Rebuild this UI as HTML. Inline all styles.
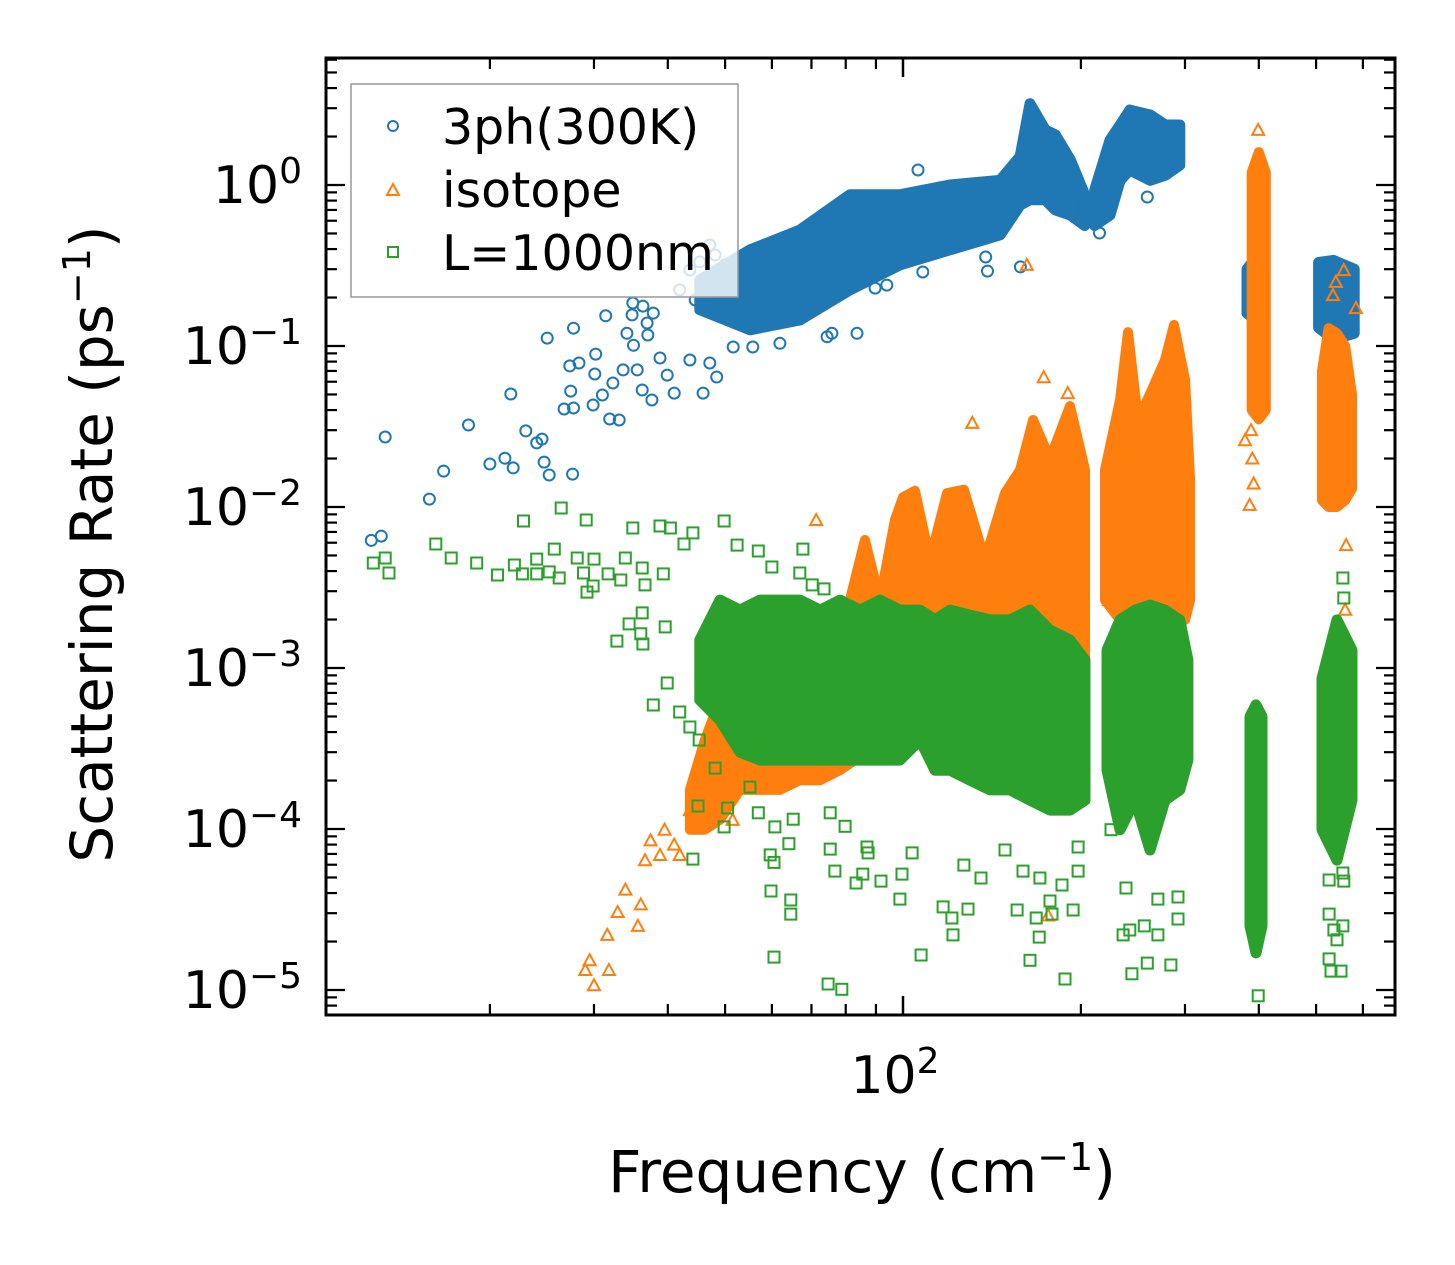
<!DOCTYPE html>
<html><head><meta charset="utf-8">
<style>
html,body{margin:0;padding:0;background:#fff;}
svg{display:block;font-family:"DejaVu Sans","Liberation Sans",sans-serif;}
</style></head>
<body>
<svg id="chart" width="1455" height="1265" viewBox="0 0 1455 1265" xmlns="http://www.w3.org/2000/svg">
<rect width="1455" height="1265" fill="#fff"/>
<defs><clipPath id="plotclip"><rect x="326" y="58" width="1069" height="957"/></clipPath></defs>
<g id="marks" clip-path="url(#plotclip)"></g>
<g id="axes"></g>
<g id="legend">
  <rect x="351" y="84" width="387" height="213" fill="rgba(255,255,255,0.8)" stroke="#999" stroke-width="1.5"/>
  <circle cx="393" cy="126" r="5" fill="none" stroke="#1f77b4" stroke-width="2"/>
  <text x="442" y="144" font-size="49">3ph(300K)</text>
  <path d="M387,195 L393,184 L399,195 Z" fill="none" stroke="#ff7f0e" stroke-width="2"/>
  <text x="442" y="207" font-size="49">isotope</text>
  <rect x="388" y="247" width="10" height="10" fill="none" stroke="#2ca02c" stroke-width="2"/>
  <text x="442" y="270" font-size="49">L=1000nm</text>
</g>
<text x="862" y="1192" font-size="58" text-anchor="middle">Frequency (cm<tspan baseline-shift="super" font-size="38">−1</tspan>)</text>
<text transform="translate(112,544) rotate(-90)" font-size="58" text-anchor="middle">Scattering Rate (ps<tspan baseline-shift="super" font-size="38">−1</tspan>)</text>
</svg>
<script>
// ---- data ----
const blueBandA_f=[45.3,55.1,66.9,81.3,99,120,146,157.8,164,174,181,192,203];
const blueBandA_hi=[0.257,0.395,0.525,0.87,0.87,1.0,1.07,1.5,3.2,2.2,2.05,1.43,0.87];
const blueBandA_lo=[0.168,0.126,0.145,0.223,0.32,0.395,0.49,0.75,0.81,0.81,0.70,0.65,0.56];
const blueBandB_f=[211,224,233,242,262,278,294];
const blueBandB_hi=[0.93,1.9,2.36,2.92,2.72,2.36,2.36];
const blueBandB_lo=[0.56,0.65,1.07,1.24,1.07,1.15,1.33];
const blueBandC_f=[382,390,400];
const blueBandC_hi=[0.3,0.33,0.3];
const blueBandC_lo=[0.16,0.15,0.16];
const blueBandD_f=[505,535,580];
const blueBandD_hi=[0.33,0.34,0.30];
const blueBandD_lo=[0.13,0.11,0.12];
const bluePts=[[12.6,0.0062],[13.1,0.0066],[13.3,0.0272],[15.8,0.0112],[16.7,0.0167],[18.4,0.0323],[20.0,0.0185],[21.2,0.0201],[21.9,0.0175],[21.7,0.0503],[23.0,0.0297],[24.0,0.025],[24.5,0.0264],[24.7,0.019],[25.2,0.0158],[27.6,0.016],[25.0,0.112],[27.7,0.129],[27.3,0.0752],[28.3,0.0784],[27.4,0.0525],[26.7,0.0406],[27.7,0.0412],[29.9,0.043],[30.1,0.067],[30.2,0.0891],[31.4,0.154],[31.0,0.0496],[31.9,0.0352],[33.1,0.0347],[32.3,0.0589],[34.1,0.12],[34.8,0.156],[34.9,0.185],[36.3,0.177],[37.8,0.16],[35.0,0.101],[36.9,0.139],[37.0,0.117],[39.9,0.066],[41.0,0.051],[45.9,0.051],[47.1,0.0784],[48.4,0.0642],[36.2,0.0533],[37.6,0.0462],[33.6,0.071],[35.5,0.071],[43.6,0.0818],[38.8,0.0842],[51.6,0.0986],[55.7,0.0986],[61.9,0.104],[58.4,0.424],[64.4,0.436],[60.0,0.436],[74.4,0.114],[75.8,0.12],[108,0.288],[138,0.357],[139,0.292],[158,0.31],[83.6,0.12],[89.7,0.229],[93.9,0.239],[215,0.503],[259,0.842],[106,1.24],[41.9,0.223],[43.6,0.296],[45.3,0.333],[46.2,0.257],[48.1,0.368],[50.0,0.319],[51.0,0.239],[44.5,0.193],[47.1,0.424]];

const orBand1_f=[43.6,46.2,49.0,53.0,57.3,61.9,66.9,72.4,78.2,82.9,86.2,91.4,96.9,100,104.8,111.1,118.7,126.8,137.6,148.8,157.8,166,177.3,191.7,203.2];
const orBand1_hi=[1.75e-4,3.57e-4,6.33e-4,1.12e-3,6.33e-4,1.12e-3,7.3e-4,1.29e-3,1.49e-3,3.52e-3,6.24e-3,2.64e-3,8.3e-3,0.0115,0.0126,4.69e-3,0.0122,0.0128,4.69e-3,0.0122,0.017,0.0347,0.0199,0.0424,0.017];
const orBand1_lo=[9.9e-5,9.9e-5,1.14e-4,1.75e-4,1.75e-4,1.75e-4,2.01e-4,2.01e-4,2.32e-4,2.68e-4,2.68e-4,2.68e-4,3.57e-4,3.57e-4,3.57e-4,3.57e-4,3.57e-4,3.57e-4,3.57e-4,4.75e-4,4.75e-4,4.75e-4,4.75e-4,4.75e-4,6.33e-4];
const orBand2_f=[219.7,232.9,240.3,249.8,261.8,277.5,287.4,300.1,306];
const orBand2_hi=[0.017,0.0462,0.122,0.0347,0.0503,0.0818,0.135,0.0615,0.0147];
const orBand2_lo=[2.64e-3,1.99e-3,1.99e-3,1.99e-3,1.99e-3,1.99e-3,1.99e-3,1.99e-3,2.64e-3];
const orBand3_f=[389,400,411];
const orBand3_hi=[1.2,1.6,1.2];
const orBand3_lo=[0.04,0.035,0.04];
const orBand4_f=[511.7,525,542.5,560,575];
const orBand4_hi=[0.07,0.129,0.12,0.1,0.05];
const orBand4_lo=[0.011,0.01,0.01,0.011,0.013];
const orangePts=[[29,1.33e-5],[29.5,1.53e-5],[30,1.07e-5],[31.8,1.33e-5],[31.6,2.2e-5],[32.9,3.05e-5],[33.9,4.2e-5],[36,3.4e-5],[35.6,2.5e-5],[36.6,6.4e-5],[37.4,8.5e-5],[39.5,9.9e-5],[38.8,6.9e-5],[41,8e-5],[41.9,6.9e-5],[43.6,1.31e-4],[44.9,2.01e-4],[46.8,1.31e-4],[48,2.68e-4],[50,1.75e-4],[52,2.16e-4],[51.5,1.14e-4],[71.3,0.0083],[162,0.319],[131,0.0333],[173,0.064],[190,0.051],[399,2.2],[379,0.026],[386,0.0103],[390,0.02],[392,0.014],[388,0.03],[223,2.64e-3],[292,3.62e-3],[562,5.8e-3],[560,2.3e-3],[176,2.9e-5],[557,0.296],[584,0.172],[534,0.207],[540,0.25]];

const grBand1_f=[45.3,49.0,53.0,57.3,61.9,66.9,72.4,78.2,84.6,91.4,98.8,106.9,113.3,120.1,129.8,140.4,151.7,164,177.3,191.7,203.2];
const grBand1_hi=[1.49e-3,2.64e-3,2.29e-3,2.64e-3,2.64e-3,2.64e-3,2.29e-3,2.64e-3,2.29e-3,2.64e-3,2.29e-3,2.29e-3,1.99e-3,2.29e-3,2.13e-3,1.99e-3,1.99e-3,2.29e-3,1.72e-3,1.49e-3,1.12e-3];
const grBand1_lo=[6.33e-4,4.75e-4,3.0e-4,2.68e-4,2.68e-4,2.68e-4,2.68e-4,2.68e-4,2.68e-4,2.68e-4,2.68e-4,3.57e-4,2.32e-4,2.32e-4,2.01e-4,1.75e-4,1.75e-4,1.51e-4,1.31e-4,1.31e-4,1.51e-4];
const grBand2_f=[221.4,232.9,247,261.8,277.5,294,303.4];
const grBand2_hi=[1.29e-3,1.99e-3,2.29e-3,2.46e-3,2.29e-3,1.99e-3,1.12e-3];
const grBand2_lo=[2.32e-4,9.9e-5,1.51e-4,7.41e-5,1.51e-4,1.75e-4,2.68e-4];
const grBand3_f=[386.5,395.7,405];
const grBand3_hi=[5.0e-4,5.9e-4,5.0e-4];
const grBand3_lo=[2.5e-5,1.7e-5,2.5e-5];
const grBand4_f=[511.7,542.5,575];
const grBand4_hi=[8.6e-4,1.99e-3,1.29e-3];
const grBand4_lo=[9.9e-5,6.4e-5,1.51e-4];
const greenPts=[[12.7,4.49e-3],[13.3,4.82e-3],[13.5,3.89e-3],[16.2,5.89e-3],[17.2,4.82e-3],[19.0,4.49e-3],[20.6,3.78e-3],[22.0,4.36e-3],[22.7,3.84e-3],[24.0,3.84e-3],[24.0,4.75e-3],[25.2,3.95e-3],[26.2,3.62e-3],[25.7,5.48e-3],[22.8,8.19e-3],[26.4,9.86e-3],[29.1,8.3e-3],[28.1,4.82e-3],[30.0,4.75e-3],[28.8,3.89e-3],[29.2,2.96e-3],[29.9,3.23e-3],[31.7,3.84e-3],[33.3,3.52e-3],[33.9,4.82e-3],[34.9,7.41e-3],[38.8,7.62e-3],[40.4,7.41e-3],[42.6,5.89e-3],[44.1,6.9e-3],[49.8,8.19e-3],[52.4,5.8e-3],[56.9,5.33e-3],[67.7,5.48e-3],[60.0,4.24e-3],[66.9,3.89e-3],[70.2,3.28e-3],[73.5,3.1e-3],[36.2,4.18e-3],[36.6,3.28e-3],[39.3,3.84e-3],[36.2,2.2e-3],[34.4,1.88e-3],[32.8,1.47e-3],[36.0,1.63e-3],[36.3,1.41e-3],[39.6,1.8e-3],[37.8,5.89e-4],[39.9,8.07e-4],[41.9,5.33e-4],[43.6,4.3e-4],[45.2,3.57e-4],[48.1,2.39e-4],[45.0,1.39e-4],[49.8,1.03e-4],[44.1,6.5e-5],[50.5,1.35e-4],[55.1,1.82e-4],[56.9,1.26e-4],[60.7,1.03e-4],[65.2,1.15e-4],[59.6,6.9e-5],[60.5,6.2e-5],[64.1,8.1e-5],[59.8,4.12e-5],[64.6,3.62e-5],[64.6,2.96e-5],[60.5,1.6e-5],[74.7,1.09e-5],[78.8,1.01e-5],[75.3,7.5e-5],[87.3,7.1e-5],[76.7,5.48e-5],[83.3,4.62e-5],[85.5,5.25e-5],[75.3,1.26e-4],[79.8,1.04e-4],[107.3,1.65e-5],[116.9,3.28e-5],[121,2.8e-5],[121.5,2.2e-5],[128.8,3.18e-5],[156,3.14e-5],[164,1.53e-5],[168,2.8e-5],[170,2.13e-5],[177.3,3.57e-5],[178.7,2.96e-5],[188,1.17e-5],[194,3.14e-5],[99.6,5.25e-5],[98.8,3.67e-5],[91.8,4.75e-5],[86.9,7.73e-5],[103.6,7.1e-5],[126.8,5.97e-5],[135.5,4.96e-5],[148.8,7.41e-5],[159.6,5.48e-5],[170.5,4.96e-5],[185.8,4.49e-5],[197.8,5.48e-5],[197.8,7.73e-5],[224.9,9.9e-5],[235.7,2.2e-5],[242,2.36e-5],[244,1.26e-5],[259,1.47e-5],[256,2.5e-5],[270,2.2e-5],[284,1.43e-5],[292,2.76e-5],[292,3.78e-5],[270,3.67e-5],[238.4,4.3e-5],[399,9.2e-6],[530,1.31e-5],[551,1.31e-5],[526,1.56e-5],[526,2.96e-5],[536,2.36e-5],[542.5,2.05e-5],[555,2.5e-5],[555,5.33e-5],[526,4.82e-5],[557,4.75e-5],[555,3.62e-3],[557,2.72e-3]];

// ---- axes functions ----
const X0=326,X1=1395,Y0=58,Y1=1015;
function X(f){return 903+591*Math.log10(f/100);}
function Y(v){return 185-161*Math.log10(v);}

const xMajorTicks=[100];
const xMinorTicks=[20,30,40,50,60,70,80,90,200,300,400,500,600,700];
const yMajorExps=[0,-1,-2,-3,-4,-5];
const xTickLabels=["2"];

const NS="http://www.w3.org/2000/svg";
const marks=document.getElementById('marks');
const axes=document.getElementById('axes');
function mk(tag,attrs,parent){const e=document.createElementNS(NS,tag);for(const k in attrs)e.setAttribute(k,attrs[k]);parent.appendChild(e);return e;}

function drawBand(fs,his,los,color,sw,name){
  let d='';
  for(let i=0;i<fs.length;i++){d+=(i?'L':'M')+X(fs[i]).toFixed(1)+','+Y(his[i]).toFixed(1);}
  for(let i=fs.length-1;i>=0;i--){d+='L'+X(fs[i]).toFixed(1)+','+Y(los[i]).toFixed(1);}
  d+='Z';
  const p=mk('path',{d:d,fill:color,stroke:color,'stroke-width':sw,'stroke-linejoin':'round'},marks);
  
  
}
function circ(f,v){const c=mk('circle',{cx:X(f).toFixed(1),cy:Y(v).toFixed(1),r:5.5,fill:'none',stroke:'#1f77b4','stroke-width':2},marks);
  
  }
function tri(f,v){const x=X(f),y=Y(v);const p=mk('path',{d:`M${x-6},${y+5}L${x},${y-6}L${x+6},${y+5}Z`,fill:'none',stroke:'#ff7f0e','stroke-width':2},marks);
  
  }
function sq(f,v){const x=X(f),y=Y(v);const r=mk('rect',{x:(x-5.5).toFixed(1),y:(y-5.5).toFixed(1),width:11,height:11,fill:'none',stroke:'#2ca02c','stroke-width':2},marks);
  
  }

// blue
drawBand(blueBandA_f,blueBandA_hi,blueBandA_lo,'#1f77b4',11,'band-3ph-a');
drawBand(blueBandB_f,blueBandB_hi,blueBandB_lo,'#1f77b4',11,'band-3ph-b');
drawBand(blueBandC_f,blueBandC_hi,blueBandC_lo,'#1f77b4',11,'band-3ph-c');
drawBand(blueBandD_f,blueBandD_hi,blueBandD_lo,'#1f77b4',11,'band-3ph-d');
bluePts.forEach(p=>circ(p[0],p[1]));
// orange
drawBand(orBand1_f,orBand1_hi,orBand1_lo,'#ff7f0e',10,'band-isotope-a');
drawBand(orBand2_f,orBand2_hi,orBand2_lo,'#ff7f0e',10,'band-isotope-b');
drawBand(orBand3_f,orBand3_hi,orBand3_lo,'#ff7f0e',10,'band-isotope-c');
drawBand(orBand4_f,orBand4_hi,orBand4_lo,'#ff7f0e',10,'band-isotope-d');
orangePts.forEach(p=>tri(p[0],p[1]));
// green
drawBand(grBand1_f,grBand1_hi,grBand1_lo,'#2ca02c',11,'band-l1000nm-a');
drawBand(grBand2_f,grBand2_hi,grBand2_lo,'#2ca02c',11,'band-l1000nm-b');
drawBand(grBand3_f,grBand3_hi,grBand3_lo,'#2ca02c',11,'band-l1000nm-c');
drawBand(grBand4_f,grBand4_hi,grBand4_lo,'#2ca02c',11,'band-l1000nm-d');
greenPts.forEach(p=>sq(p[0],p[1]));

// ---- axes ----
function line(x1,y1,x2,y2,w,name){const l=mk('line',{x1:x1,y1:y1,x2:x2,y2:y2,stroke:'#000','stroke-width':w},axes);
  
  }
xMajorTicks.forEach(f=>{const x=X(f);line(x,Y1,x,Y1-19,2.5,'x-major-tick');line(x,Y0,x,Y0+19,2.5,'x-major-tick-top');});
xMinorTicks.forEach(f=>{const x=X(f);if(x<X0||x>X1)return;line(x,Y1,x,Y1-11,2.2,'x-minor-tick');line(x,Y0,x,Y0+11,2.2,'x-minor-tick-top');});
for(let e=-6;e<=1;e++){
  for(let m=1;m<10;m++){
    const y=Y(m*Math.pow(10,e));
    if(y<Y0||y>Y1)continue;
    const L=(m===1)?19:11;
    line(X0,y,X0+L,y,2.2,m===1?'y-major-tick':'y-minor-tick');
    line(X1,y,X1-L,y,2.2,m===1?'y-major-tick-right':'y-minor-tick-right');
  }
}
yMajorExps.forEach(e=>{
  const t=mk('text',{x:302,y:Y(Math.pow(10,e))+18,'font-size':52,'text-anchor':'end'},axes);
  
  
  t.textContent='10';
  const s=mk('tspan',{'baseline-shift':'super','font-size':36},t);
  s.textContent=(e<0?'−':'')+Math.abs(e);
});
xMajorTicks.forEach((f,i)=>{
  const t=mk('text',{x:X(f)-8,y:1093,'font-size':52,'text-anchor':'middle'},axes);
  
  
  t.textContent='10';
  const s=mk('tspan',{'baseline-shift':'super','font-size':36},t);
  s.textContent=xTickLabels[i];
});
const fr=mk('rect',{x:X0,y:Y0,width:X1-X0,height:Y1-Y0,fill:'none',stroke:'#000','stroke-width':3},axes);


</script>
</body></html>
